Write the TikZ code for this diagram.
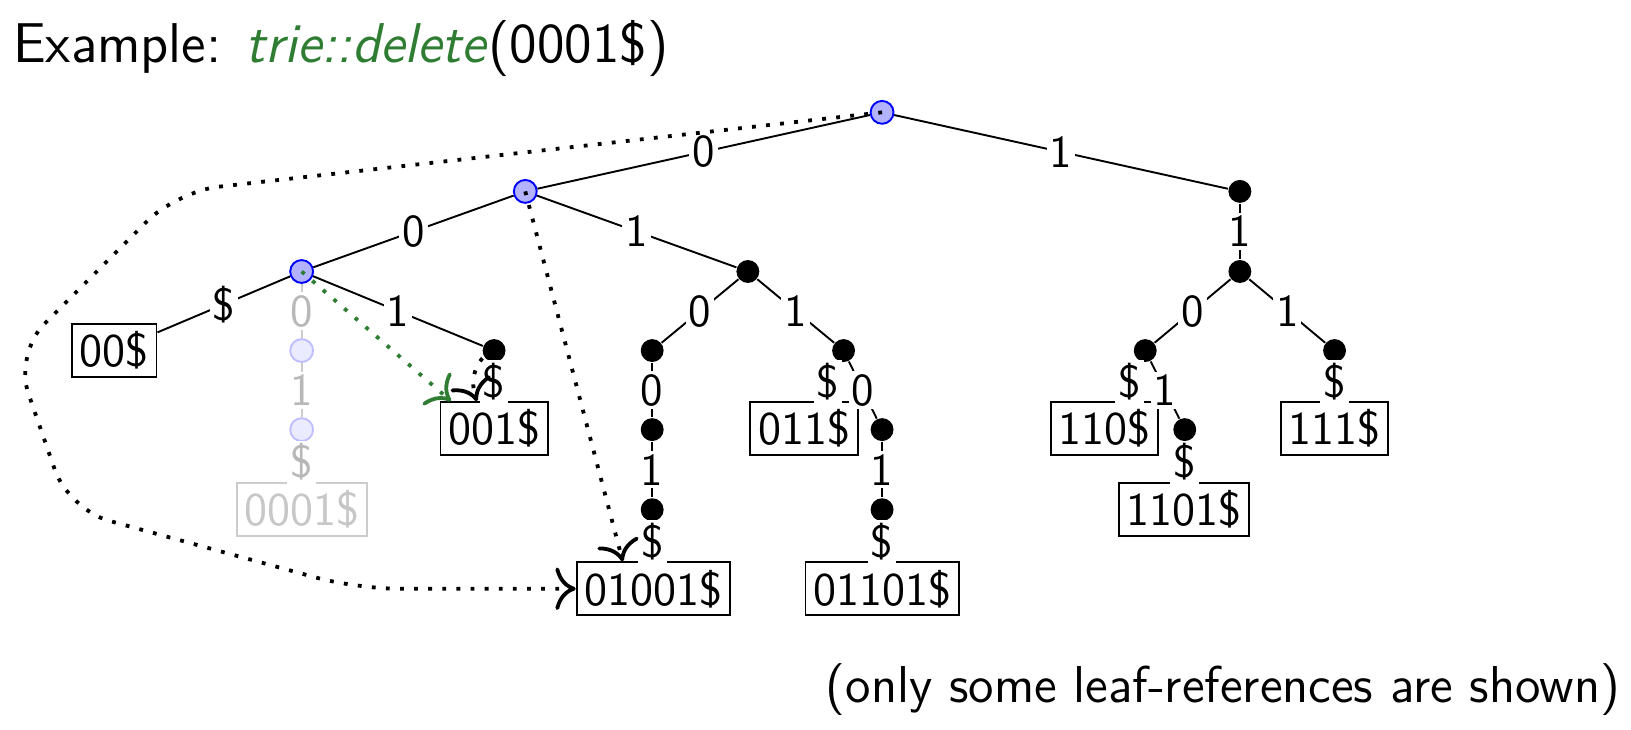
\documentclass[tikz,border=0pt]{standalone}
\usepackage{xcolor}
\usepackage{tikz}
\renewcommand{\familydefault}{\sfdefault}
\definecolor{opgreen}{RGB}{46, 125, 50}
\usetikzlibrary{arrows.meta, positioning, calc}

\begin{document}
\begin{tikzpicture}[
    x=27.27pt, y=27.27pt,
    trienode/.style={circle, fill=black, inner sep=0pt, minimum size=6pt},
    visitnode/.style={circle, draw=blue, fill=blue!30, line width=0.5pt, inner sep=0pt, minimum size=6pt},
    gonenode/.style={circle, draw=blue!25, fill=blue!8, line width=0.5pt, inner sep=0pt, minimum size=6pt},
    leaf/.style={rectangle, draw, line width=0.5pt, inner sep=2pt, font=\fontsize{12.3}{14}\selectfont},
    goneleaf/.style={leaf, draw=black!20, text=black!22},
    branch/.style={line width=0.5pt},
    gonebranch/.style={line width=0.5pt, black!20},
    lbl/.style={fill=white, inner sep=0.8pt, font=\large},
    gonelbl/.style={lbl, text=black!28},
    ref/.style={line width=1pt, dash pattern=on 1pt off 2.7pt, -{To[scale=1.4]}},
    newref/.style={ref, opgreen}
]
    \useasboundingbox (0, 0) rectangle (15.68, -7.01);

    % Title and note
    \node[anchor=base west, inner sep=0pt, font=\fontsize{14.7}{17}\selectfont] (title) at (0.12, -0.60) {Example: \textcolor{opgreen}{\textit{trie::delete}}(0001\$)};
    \node[anchor=base east, inner sep=0pt, font=\fontsize{13.6}{16}\selectfont] (note) at (15.58, -6.75) {(only some leaf-references are shown)};

    % Inner nodes
    \node[visitnode] (root) at (8.48, -1.08) {};
    \node[visitnode] (n0) at (5.05, -1.84) {};
    \node[trienode] (n1) at (11.92, -1.84) {};
    \node[visitnode] (n00) at (2.90, -2.61) {};
    \node[trienode] (n01) at (7.19, -2.61) {};
    \node[trienode] (n11) at (11.92, -2.61) {};
    \node[trienode] (n001) at (4.75, -3.37) {};
    \node[trienode] (n010) at (6.27, -3.37) {};
    \node[trienode] (n011) at (8.11, -3.37) {};
    \node[trienode] (n110) at (11.01, -3.37) {};
    \node[trienode] (n111) at (12.83, -3.37) {};
    \node[trienode] (n0100) at (6.27, -4.13) {};
    \node[trienode] (n0110) at (8.48, -4.13) {};
    \node[trienode] (n1101) at (11.39, -4.13) {};
    \node[trienode] (n01001) at (6.27, -4.90) {};
    \node[trienode] (n01101) at (8.48, -4.90) {};

    % Leaves
    \node[leaf] (l00) at (1.10, -3.37) {00\$};
    \node[leaf] (l001) at (4.75, -4.12) {001\$};
    \node[leaf] (l011) at (7.73, -4.12) {011\$};
    \node[leaf] (l110) at (10.62, -4.12) {110\$};
    \node[leaf] (l111) at (12.83, -4.12) {111\$};
    \node[leaf] (l1101) at (11.38, -4.90) {1101\$};
    \node[leaf] (l01001) at (6.28, -5.66) {01001\$};
    \node[leaf] (l01101) at (8.48, -5.66) {01101\$};

    % Deleted key
    \node[gonenode] (n000) at (2.90, -3.37) {};
    \node[gonenode] (n0001) at (2.90, -4.13) {};
    \node[goneleaf] (l0001) at (2.90, -4.90) {0001\$};
    \draw[gonebranch] (n00) -- node[gonelbl] {0} (n000);
    \draw[gonebranch] (n000) -- node[gonelbl] {1} (n0001);
    \draw[gonebranch] (n0001) -- node[gonelbl] {\$} (l0001);

    % Edges
    \draw[branch] (root) -- node[lbl] {0} (n0);
    \draw[branch] (root) -- node[lbl] {1} (n1);
    \draw[branch] (n0) -- node[lbl] {0} (n00);
    \draw[branch] (n0) -- node[lbl] {1} (n01);
    \draw[branch] (n1) -- node[lbl] {1} (n11);
    \draw[branch] (n00) -- node[lbl] {\$} (l00);
    \draw[branch] (n00) -- node[lbl] {1} (n001);
    \draw[branch] (n001) -- node[lbl] {\$} (l001);
    \draw[branch] (n01) -- node[lbl] {0} (n010);
    \draw[branch] (n01) -- node[lbl] {1} (n011);
    \draw[branch] (n010) -- node[lbl] {0} (n0100);
    \draw[branch] (n0100) -- node[lbl] {1} (n01001);
    \draw[branch] (n01001) -- node[lbl] {\$} (l01001);
    \draw[branch] (n011) -- node[lbl] {\$} (l011);
    \draw[branch] (n011) -- node[lbl] {0} (n0110);
    \draw[branch] (n0110) -- node[lbl] {1} (n01101);
    \draw[branch] (n01101) -- node[lbl] {\$} (l01101);
    \draw[branch] (n11) -- node[lbl] {0} (n110);
    \draw[branch] (n11) -- node[lbl] {1} (n111);
    \draw[branch] (n110) -- node[lbl] {\$} (l110);
    \draw[branch] (n110) -- node[lbl] {1} (n1101);
    \draw[branch] (n1101) -- node[lbl] {\$} (l1101);
    \draw[branch] (n111) -- node[lbl] {\$} (l111);

    % Leaf references
    \coordinate (bendA) at (1.70, -1.84);
    \coordinate (bendB) at (0.14, -3.40);
    \coordinate (bendC) at (0.66, -4.90);
    \coordinate (bendD) at (3.43, -5.66);
    \draw[ref, rounded corners=11pt] (root.center) -- (bendA) -- (bendB) -- (bendC) -- (bendD) -- (l01001.west);
    \draw[ref] (n0.center) -- ([xshift=-8pt]l01001.north);
    \draw[ref] (n001.center) to[out=200, in=110] ([xshift=-4.5pt]l001.north);
    \draw[newref] (n00.center) -- ([xshift=3pt]l001.north west);
\end{tikzpicture}
\end{document}
